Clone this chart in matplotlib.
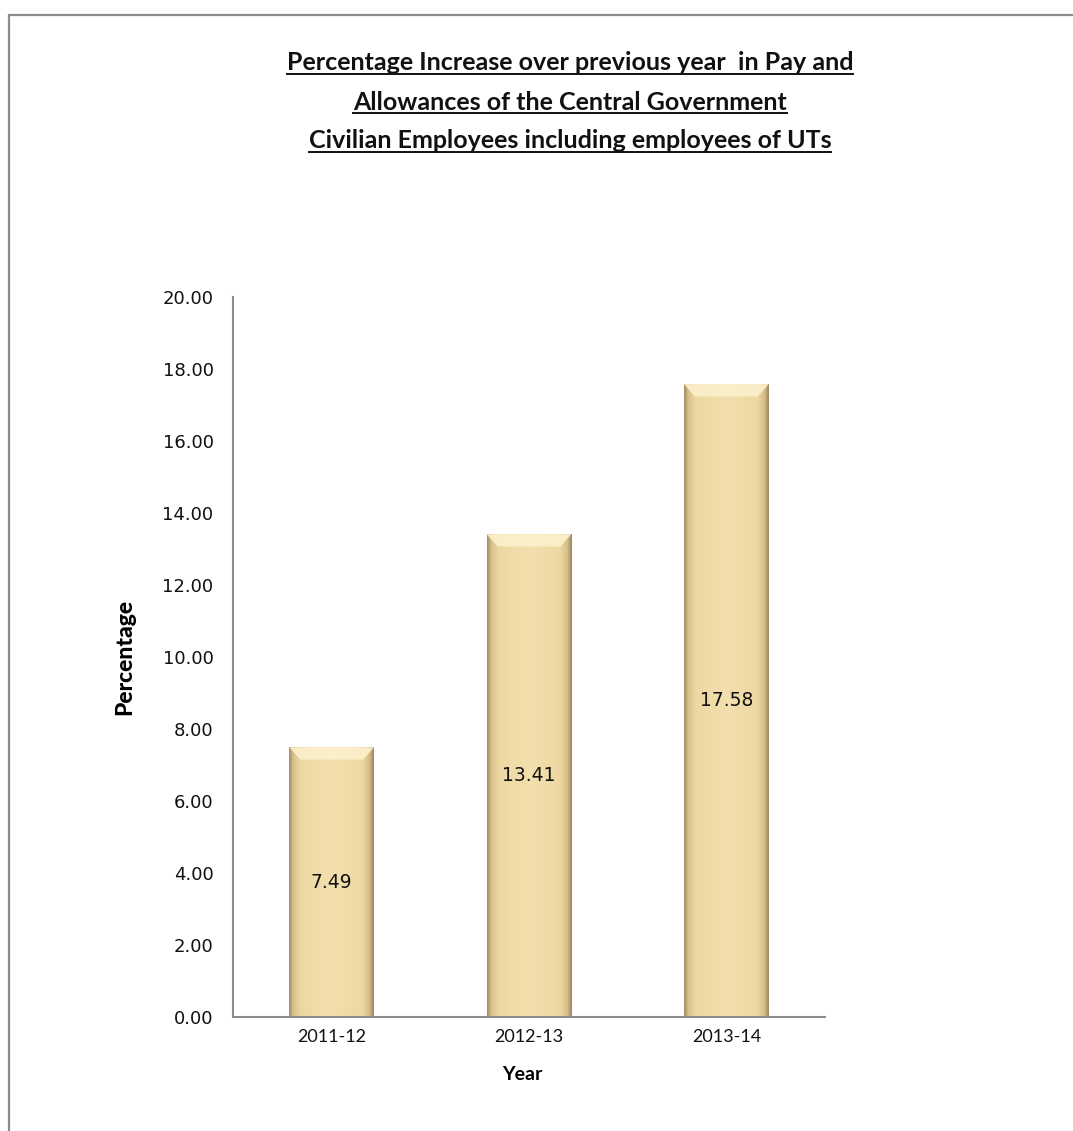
import numpy as np
import matplotlib
matplotlib.use("Agg")
import matplotlib.pyplot as plt
from matplotlib.patches import Rectangle, Polygon
from matplotlib.lines import Line2D
from matplotlib.colors import LinearSegmentedColormap

plt.rcParams['font.family'] = ['Lato', 'DejaVu Sans']

years = ['2011-12', '2012-13', '2013-14']
pct = [7.49, 13.41, 17.58]
title_lines = ['Percentage Increase over previous year  in Pay and',
               'Allowances of the Central Government',
               'Civilian Employees including employees of UTs']

W, H = 1073, 1131
fig = plt.figure(figsize=(W / 100, H / 100), dpi=100)

# outer frame, cut off at right and bottom like the screenshot
fig.add_artist(Rectangle((9 / W, -0.05), 1.2, 1 - 15 / H + 0.05,
                         transform=fig.transFigure, fill=False,
                         edgecolor='#8c8c8c', lw=1.6))

ax = fig.add_axes([233 / W, 1 - 1017 / H, (825 - 233) / W, (1017 - 297) / H])
x = np.arange(len(years))
bars = ax.bar(x, pct, width=0.43, color='#F0DBA5', edgecolor='none', zorder=2)

# papyrus-ish shading: thin dark edges, light middle
papyrus = LinearSegmentedColormap.from_list('papyrus', [
    (0.0, '#A08B62'), (0.05, '#D9C18C'), (0.14, '#EDD8A3'), (0.5, '#F3E0AE'),
    (0.86, '#EED8A2'), (0.95, '#D6BD86'), (1.0, '#988460')])
grad = np.linspace(0, 1, 256).reshape(1, -1)
for b in bars:
    x0, w, h = b.get_x(), b.get_width(), b.get_height()
    im = ax.imshow(grad, cmap=papyrus, aspect='auto', zorder=2,
                   extent=[x0, x0 + w, 0, h], interpolation='bicubic')
    im.set_clip_path(b)
    # bevel on top
    d, dh = w * 0.13, 0.34
    ax.add_patch(Polygon([(x0, h), (x0 + w, h), (x0 + w - d, h - dh), (x0 + d, h - dh)],
                         closed=True, facecolor='#FCF1CD', edgecolor='none',
                         alpha=0.9, zorder=3))
    ax.text(x0 + w / 2, h / 2, f'{h:.2f}', ha='center', va='center',
            fontsize=13.5, color='#111111', family='DejaVu Sans', zorder=4)

ax.set_xlim(-0.5, len(years) - 0.5)
ax.set_ylim(0, 20)
ax.set_yticks(np.arange(0, 21, 2))
ax.set_yticklabels([f'{v:.2f}' for v in np.arange(0, 21, 2)], family='DejaVu Sans')
ax.set_xticks(x)
ax.set_xticklabels(years)
ax.tick_params(axis='y', length=0, pad=14, labelsize=13, labelcolor='#111111')
ax.tick_params(axis='x', length=0, pad=9, labelsize=13, labelcolor='#111111')
for s in ['top', 'right']:
    ax.spines[s].set_visible(False)
for s in ['left', 'bottom']:
    ax.spines[s].set_color('#8c8c8c')
    ax.spines[s].set_linewidth(1.5)

fig.text(125 / W, 1 - 657 / H, 'Percentage', rotation=90, ha='center', va='center',
         fontsize=16.5, fontweight='black')
fig.text(522 / W, 1 - 1074 / H, 'Year', ha='center', va='center',
         fontsize=14, fontweight='bold')

# title, underlined line by line
ys = [63, 102, 141]
texts = []
for line, yy in zip(title_lines, ys):
    texts.append(fig.text(570 / W, 1 - yy / H, line, ha='center', va='center',
                          fontsize=18, fontweight='bold', color='#111111'))
fig.canvas.draw()
r = fig.canvas.get_renderer()
for t in texts:
    bb = t.get_window_extent(r)
    uy = (bb.y0 + 1) / H
    fig.add_artist(Line2D([bb.x0 / W, bb.x1 / W], [uy, uy], transform=fig.transFigure,
                          color='#111111', lw=1.4))

fig.savefig('out.png', dpi=100)
